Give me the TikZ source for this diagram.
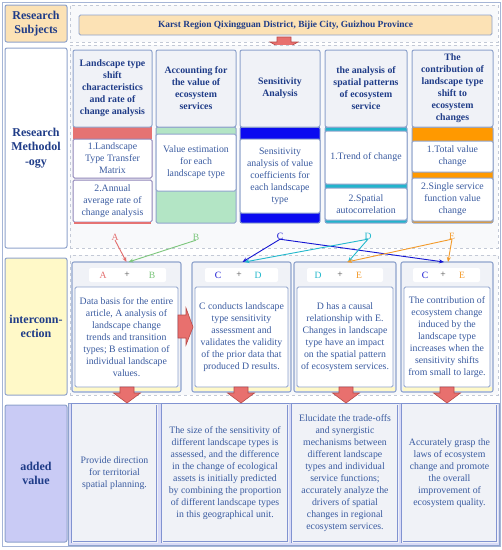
\documentclass[tikz,border=0pt]{standalone}
\usepackage{fontspec}
\setmainfont{Liberation Serif}
\usetikzlibrary{arrows.meta}
\definecolor{frame}{HTML}{8FA3CC}
\definecolor{dash}{HTML}{C3C9D6}
\definecolor{regfill}{HTML}{F8F9FB}
\definecolor{hdrfill}{HTML}{F0F2F7}
\definecolor{navy}{HTML}{1F3C88}
\definecolor{bodyc}{HTML}{3A5BA0}
\definecolor{subjfill}{HTML}{FCE2B5}
\definecolor{interfill}{HTML}{FFF9C8}
\definecolor{addfill}{HTML}{C9CBF5}
\definecolor{cA}{HTML}{E36C6C}
\definecolor{cB}{HTML}{7CC67C}
\definecolor{cC}{HTML}{1414D2}
\definecolor{cD}{HTML}{22B8CC}
\definecolor{cE}{HTML}{F39A2A}
\definecolor{bandR}{HTML}{E57373}
\definecolor{bandG}{HTML}{B3E5C5}
\definecolor{bandB}{HTML}{0A0AF0}
\definecolor{bandC}{HTML}{22B4CC}
\definecolor{bandO}{HTML}{FF9900}
\definecolor{mauve}{HTML}{8E84B8}
\definecolor{arrfill}{HTML}{E8706E}
\definecolor{arrdraw}{HTML}{B84A48}
\newcommand\hfont{\fontsize{9.8}{12}\selectfont\bfseries}
\newcommand\bfont{\fontsize{9.8}{12}\selectfont}
\newcommand\lfont{\fontsize{12}{14.5}\selectfont\bfseries}
% name, x1, y1, x2, y2, style, text
\newcommand\mybox[7]{\node[#6, minimum width={#4-#2}, minimum height={#5-#3}] (#1) at ({(#2+#4)/2},{(#3+#5)/2}) {#7};}
\newcommand\downarr[2]{\filldraw[bigarrow] ({#1-7},{#2}) -- ({#1+7},{#2}) -- ({#1+7},{#2+6}) -- ({#1+13.5},{#2+6}) -- ({#1},{#2+16}) -- ({#1-13.5},{#2+6}) -- ({#1-7},{#2+6}) -- cycle;}
\begin{document}
\begin{tikzpicture}[x=1pt,y=-1pt,
  every node/.style={inner sep=0pt, outer sep=0pt},
  lbl/.style={draw=frame, line width=1pt, rounded corners=2pt, align=center, text=navy, font=\lfont},
  region/.style={draw=dash, dashed, line width=0.9pt, fill=regfill},
  hdr/.style={draw=frame, line width=1pt, rounded corners=2pt, fill=hdrfill, align=center, text=navy, font=\hfont},
  sub/.style={draw=frame, line width=1pt, rounded corners=1.5pt, fill=white, align=center, text=bodyc, font=\bfont},
  ibox/.style={draw=frame, line width=1.1pt, rounded corners=2pt, fill=hdrfill},
  itag/.style={fill=white, rounded corners=2pt, font=\fontsize{9.6}{12}\selectfont},
  ibody/.style={draw=frame, line width=0.9pt, rounded corners=1.5pt, fill=white, align=center, text=bodyc, font=\bfont},
  abox/.style={draw=frame!90!blue, double=hdrfill, double distance=0.8pt, line width=0.9pt, fill=hdrfill, align=center, text=bodyc, font=\bfont},
  letter/.style={font=\fontsize{9.6}{12}\selectfont},
  link/.style={line width=0.9pt, -{Stealth[length=5pt,width=4pt]}},
  bigarrow/.style={fill=arrfill, draw=arrdraw, line width=0.6pt, line join=miter}]
\useasboundingbox (0,0) rectangle (502,550);
\fill[white] (0,0) rectangle (502,550);
\draw[frame!80, line width=0.8pt] (2,2) rectangle (500,546);

% ---------- row 1
\mybox{lsubj}{5}{5}{67}{42}{lbl, fill=subjfill}{Research\\Subjects}
\mybox{r1}{70}{5}{498}{42}{region}{}
\mybox{karst}{79}{15}{492}{35}{draw=frame, line width=0.9pt, rounded corners=1.5pt, fill=subjfill, text=navy, font=\fontsize{9.4}{12}\selectfont\bfseries}{Karst Region Qixingguan District, Bijie City, Guizhou Province}
\filldraw[bigarrow] (277,37) -- (291,37) -- (291,42) -- (298,42) -- (284,50) -- (270,42) -- (277,42) -- cycle;

% ---------- row 2
\mybox{lmeth}{5}{48}{67}{248}{lbl, fill=white, anchor=center}{}
\node[text=navy, font=\lfont, align=center] (lmethtxt) at (36,148) {Research\\Methodol\\-ogy};
\mybox{r2}{70}{45}{498}{248}{region}{}

% column 1
\fill[bandR] (73,127) rectangle (152,139);
\mybox{m1a}{73}{139}{152}{178}{sub, draw=mauve}{1.Landscape\\Type Transfer\\Matrix}
\mybox{m1b}{73}{180}{152}{222}{sub, draw=mauve}{2.Annual\\average rate of\\change analysis}
\fill[bandR] (74,221.5) rectangle (151,223.5);
\mybox{h1}{73}{50}{152}{127}{hdr}{Landscape type\\shift\\characteristics\\and rate of\\change analysis}

% column 2
\fill[bandG] (156,127) rectangle (236,223);
\draw[frame, line width=1pt, rounded corners=1.5pt] (156,127) rectangle (236,223);
\mybox{m2a}{156}{134}{236}{191}{sub}{Value estimation\\for each\\landscape type}
\mybox{h2}{156}{50}{236}{127}{hdr}{Accounting for\\the value of\\ecosystem\\services}

% column 3
\fill[bandB] (240,127) rectangle (320,223);
\draw[frame, line width=1pt, rounded corners=1.5pt] (240,127) rectangle (320,223);
\mybox{m3a}{240}{139}{320}{213}{sub}{Sensitivity\\analysis of value\\coefficients for\\each landscape\\type}
\mybox{h3}{240}{50}{320}{127}{hdr}{Sensitivity\\Analysis}

% column 4
\fill[bandC] (325,127) rectangle (407,223);
\draw[frame, line width=1pt, rounded corners=1.5pt] (325,127) rectangle (407,223);
\mybox{m4a}{325}{131}{407}{184}{sub}{1.Trend of change}
\mybox{m4b}{325}{188}{407}{220}{sub}{2.Spatial\\autocorrelation}
\mybox{h4}{325}{50}{407}{127}{hdr}{the analysis of\\spatial patterns\\of ecosystem\\service}

% column 5
\fill[bandO] (412,127) rectangle (493,223);
\draw[frame, line width=1pt, rounded corners=1.5pt] (412,127) rectangle (493,223);
\mybox{m5a}{412}{141}{493}{172}{sub}{1.Total value\\change}
\mybox{m5b}{412}{178}{493}{221}{sub}{2.Single service\\function value\\change}
\mybox{h5}{412}{50}{493}{127}{hdr}{The\\contribution of\\landscape type\\shift to\\ecosystem\\changes}

% letters
\node[letter, text=cA] (A) at (115,237) {A};
\node[letter, text=cB] (B) at (196,237) {B};
\node[letter, text=cC] (C) at (280,236) {C};
\node[letter, text=cD] (D) at (368,236) {D};
\node[letter, text=cE] (E) at (452,236) {E};

% ---------- row 3
\mybox{linter}{5}{258}{67}{395}{lbl, fill=interfill}{interconn-\\ection}
\mybox{r3}{70}{255}{498}{395}{region}{}

\mybox{i1}{72}{262}{181}{392}{ibox}{}
\mybox{i2}{192}{262}{291}{392}{ibox}{}
\mybox{i3}{294}{262}{396}{392}{ibox}{}
\mybox{i4}{401}{262}{493}{392}{ibox}{}
\foreach \xa/\xb in {73.5/179.5, 193.5/289.5, 295.5/394.5, 402.5/491.5}
  \fill[interfill] (\xa,387) rectangle (\xb,390.8);

\mybox{t1}{89}{268}{166}{282}{itag}{}
\node[letter, text=cA] (t1a) at (103,275) {A};
\node[letter, text=black!70] (t1p) at (127,275) {+};
\node[letter, text=cB] (t1b) at (152,275) {B};
\mybox{t2}{205}{268}{278}{282}{itag}{}
\node[letter, text=cC] (t2a) at (218,275) {C};
\node[letter, text=black!70] (t2p) at (239,275) {+};
\node[letter, text=cD] (t2b) at (258,275) {D};
\mybox{t3}{307}{268}{383}{282}{itag}{}
\node[letter, text=cD] (t3a) at (318,275) {D};
\node[letter, text=black!70] (t3p) at (340,275) {+};
\node[letter, text=cE] (t3b) at (359,275) {E};
\mybox{t4}{413}{268}{480}{282}{itag}{}
\node[letter, text=cC] (t4a) at (425,275) {C};
\node[letter, text=black!70] (t4p) at (443,275) {+};
\node[letter, text=cE] (t4b) at (462,275) {E};

\mybox{b1}{75}{287}{178}{387}{ibody}{Data basis for the entire\\article, A analysis of\\landscape change\\trends and transition\\types; B estimation of\\individual landscape\\values.}
\mybox{b2}{195}{287}{288}{387}{ibody}{C conducts landscape\\type sensitivity\\assessment and\\validates the validity\\of the prior data that\\produced D results.}
\mybox{b3}{297}{287}{393}{387}{ibody}{D has a causal\\relationship with E.\\Changes in landscape\\type have an impact\\on the spatial pattern\\of ecosystem services.}
\mybox{b4}{404}{287}{490}{387}{ibody}{The contribution of\\ecosystem change\\induced by the\\landscape type\\increases when the\\sensitivity shifts\\from small to large.}

% right arrow between b1 and b2
\filldraw[bigarrow] (178,315) -- (186,315) -- (186,308) -- (193,327) -- (186,345) -- (186,338) -- (178,338) -- cycle;

% links
\draw[link, cA] (A.south) -- (i1.north);
\draw[link, cB] (B.south) -- ([xshift=2pt]i1.north);
\draw[link, cC] (C.south) -- ([xshift=1pt]i2.north);
\draw[link, cC] (C.south) -- ([xshift=-3pt]i4.north);
\draw[link, cD] (D.south) -- ([xshift=3pt]i2.north);
\draw[link, cD] (D.south) -- ([xshift=3pt]i3.north);
\draw[link, cE] (E.south) -- ([xshift=2pt]i3.north);
\draw[link, cE] (E.south) -- ([xshift=1pt]i4.north);

% ---------- row 4
\mybox{ladd}{5}{405}{67}{542}{lbl, fill=addfill}{added\\value}
\fill[addfill!70!white] (68,403) rectangle (499,545);
\draw[frame, line width=0.8pt] (68,403) rectangle (499,545);
\mybox{v1}{72}{404}{157}{542}{abox}{Provide direction\\for territorial\\spatial planning.}
\mybox{v2}{162}{404}{288}{542}{abox}{The size of the sensitivity of\\different landscape types is\\assessed, and the difference\\in the change of ecological\\assets is initially predicted\\by combining the proportion\\of different landscape types\\in this geographical unit.}
\mybox{v3}{292}{404}{398}{542}{abox}{Elucidate the trade-offs\\and synergistic\\mechanisms between\\different landscape\\types and individual\\service functions;\\accurately analyze the\\drivers of spatial\\changes in regional\\ecosystem services.}
\mybox{v4}{402}{404}{497}{542}{abox}{Accurately grasp the\\laws of ecosystem\\change and promote\\the overall\\improvement of\\ecosystem quality.}

% down arrows row3 -> row4
\downarr{127}{387}
\downarr{241}{387}
\downarr{346}{387}
\downarr{447}{387}
\end{tikzpicture}
\end{document}
